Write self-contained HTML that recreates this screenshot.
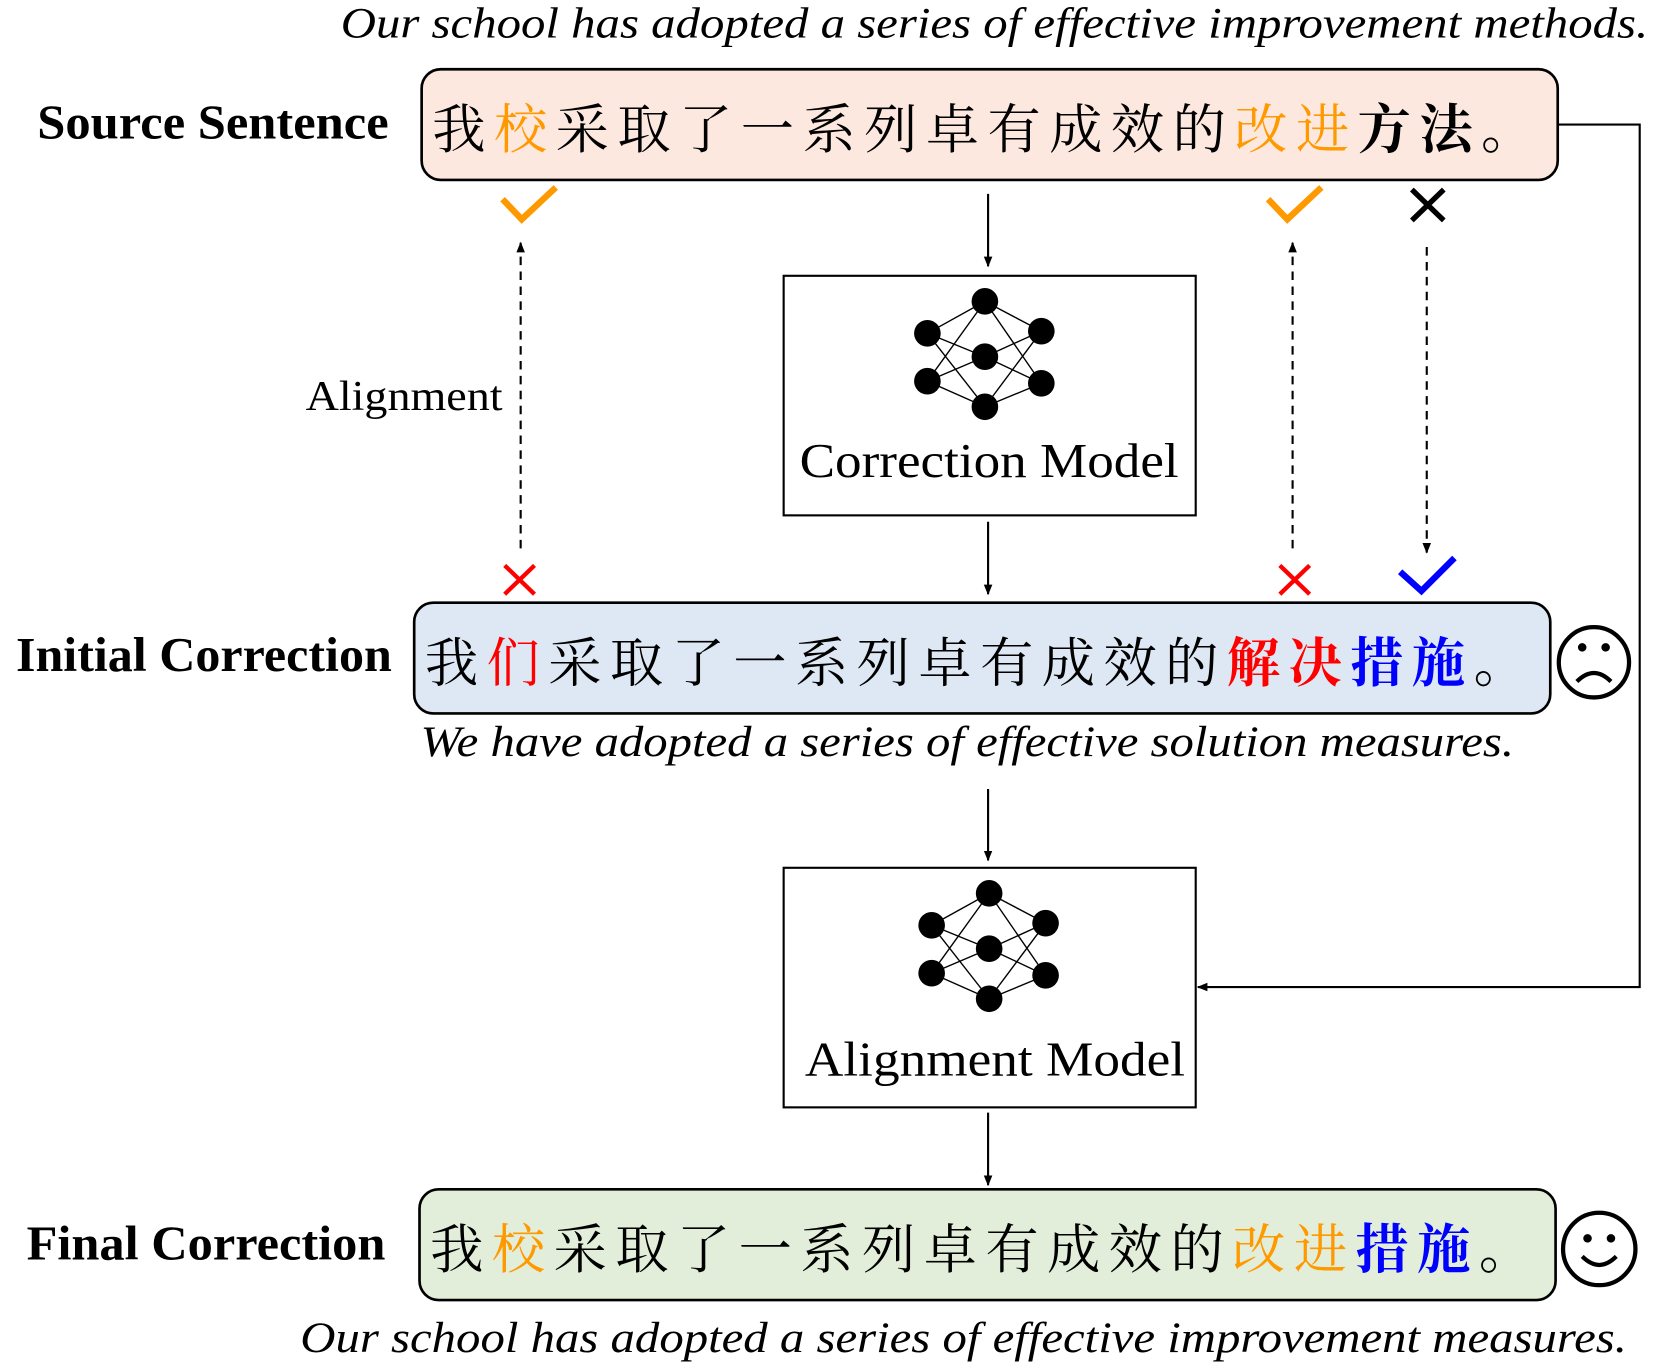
<!DOCTYPE html>
<html><head><meta charset="utf-8"><style>
html,body{margin:0;padding:0;background:#fff;}
svg{display:block;}
</style></head><body>
<svg width="1661" height="1369" viewBox="0 0 1560 1285.7" xmlns="http://www.w3.org/2000/svg">
<defs>
<marker id="ah" markerWidth="10" markerHeight="10" refX="9" refY="5" orient="auto" markerUnits="userSpaceOnUse">
<path d="M0,1 L10,5 L0,9 z" fill="#000"/></marker>
</defs>
<text font-family="Liberation Serif, serif" font-style="italic" font-size="41" x="320" y="35" textLength="1228" lengthAdjust="spacingAndGlyphs">Our school has adopted a series of effective improvement methods.</text>
<text font-family="Liberation Serif, serif" font-weight="bold" font-size="46" x="35" y="130" textLength="330" lengthAdjust="spacingAndGlyphs">Source Sentence</text>
<rect x="396" y="65" width="1067" height="104" rx="18" fill="#fde8e0" stroke="#000" stroke-width="2.5"/>
<text font-family="Noto Serif CJK SC, serif" font-size="50" x="406" y="139" textLength="1035" lengthAdjust="spacing">我<tspan fill="#ff9900">校</tspan>采取了一系列卓有成效的<tspan fill="#ff9900">改进</tspan><tspan font-weight="bold">方法</tspan>。</text>

<g fill="none" stroke-width="6">
<path d="M472,187 L490,206 L522,176" stroke="#ff9900"/>
<path d="M1191,187 L1209,206 L1241,176" stroke="#ff9900"/>
<path d="M1326,178 L1356,207 M1356,178 L1326,207" stroke="#000" stroke-width="5"/>
<path d="M474,531 L502,558 M502,531 L474,558" stroke="#ff0000" stroke-width="4"/>
<path d="M1202,531 L1230,558 M1230,531 L1202,558" stroke="#ff0000" stroke-width="4"/>
<path d="M1315,537 L1335,555 L1366,524" stroke="#0000ff"/>
</g>

<g stroke="#000" stroke-width="2" fill="none">
<line x1="928" y1="182" x2="928" y2="250" marker-end="url(#ah)"/>
<line x1="928" y1="490" x2="928" y2="558" marker-end="url(#ah)"/>
<line x1="928" y1="741" x2="928" y2="808" marker-end="url(#ah)"/>
<line x1="928" y1="1045" x2="928" y2="1113" marker-end="url(#ah)"/>
<line x1="489" y1="515" x2="489" y2="228" stroke-dasharray="8,6" marker-end="url(#ah)"/>
<line x1="1214" y1="515" x2="1214" y2="228" stroke-dasharray="8,6" marker-end="url(#ah)"/>
<line x1="1340" y1="232" x2="1340" y2="519" stroke-dasharray="8,6" marker-end="url(#ah)"/>
<polyline points="1463,117 1540,117 1540,927 1125,927" marker-end="url(#ah)"/>
</g>
<text x="287" y="385" font-family="Liberation Serif, serif" font-size="40" textLength="185" lengthAdjust="spacingAndGlyphs">Alignment</text>

<rect x="736" y="259" width="387" height="225" fill="#fff" stroke="#000" stroke-width="2"/>
<g id="net">
<g stroke="#000" stroke-width="1.3">
<line x1="871" y1="313" x2="925" y2="283"/><line x1="871" y1="313" x2="925" y2="335"/><line x1="871" y1="313" x2="925" y2="382"/>
<line x1="871" y1="358" x2="925" y2="283"/><line x1="871" y1="358" x2="925" y2="335"/><line x1="871" y1="358" x2="925" y2="382"/>
<line x1="978" y1="311" x2="925" y2="283"/><line x1="978" y1="311" x2="925" y2="335"/><line x1="978" y1="311" x2="925" y2="382"/>
<line x1="978" y1="360" x2="925" y2="283"/><line x1="978" y1="360" x2="925" y2="335"/><line x1="978" y1="360" x2="925" y2="382"/>
</g>
<g fill="#000">
<circle cx="871" cy="313" r="12.5"/><circle cx="871" cy="358" r="12.5"/>
<circle cx="925" cy="283" r="12.5"/><circle cx="925" cy="335" r="12.5"/><circle cx="925" cy="382" r="12.5"/>
<circle cx="978" cy="311" r="12.5"/><circle cx="978" cy="360" r="12.5"/>
</g></g>
<text x="751" y="448" font-family="Liberation Serif, serif" font-size="46" textLength="356" lengthAdjust="spacingAndGlyphs">Correction Model</text>

<text font-family="Liberation Serif, serif" font-weight="bold" font-size="46" x="15" y="630" textLength="353" lengthAdjust="spacingAndGlyphs">Initial Correction</text>
<rect x="389" y="566" width="1067" height="104" rx="18" fill="#dde8f4" stroke="#000" stroke-width="2.5"/>
<text font-family="Noto Serif CJK SC, serif" font-size="50" x="399" y="640" textLength="1035" lengthAdjust="spacing">我<tspan fill="#ff0000">们</tspan>采取了一系列卓有成效的<tspan fill="#ff0000" font-weight="bold">解决</tspan><tspan fill="#0000ff" font-weight="bold">措施</tspan>。</text>
<g fill="none" stroke="#000" stroke-width="4">
<circle cx="1497" cy="622" r="33"/>
<path d="M1481,640 Q1497,624 1513,640"/>
</g>
<circle cx="1486" cy="608" r="4" fill="#000"/><circle cx="1508" cy="608" r="4" fill="#000"/>
<text font-family="Liberation Serif, serif" font-style="italic" font-size="41" x="395" y="710" textLength="1027" lengthAdjust="spacingAndGlyphs">We have adopted a series of effective solution measures.</text>

<rect x="736" y="815" width="387" height="225" fill="#fff" stroke="#000" stroke-width="2"/>
<use href="#net" transform="translate(4,556)"/>
<text x="756" y="1010" font-family="Liberation Serif, serif" font-size="46" textLength="357" lengthAdjust="spacingAndGlyphs">Alignment Model</text>

<text font-family="Liberation Serif, serif" font-weight="bold" font-size="46" x="25" y="1183" textLength="337" lengthAdjust="spacingAndGlyphs">Final Correction</text>
<rect x="394" y="1117" width="1067" height="104" rx="18" fill="#e2eed9" stroke="#000" stroke-width="2.5"/>
<text font-family="Noto Serif CJK SC, serif" font-size="50" x="404" y="1191" textLength="1035" lengthAdjust="spacing">我<tspan fill="#ff9900">校</tspan>采取了一系列卓有成效的<tspan fill="#ff9900">改进</tspan><tspan fill="#0000ff" font-weight="bold">措施</tspan>。</text>
<g fill="none" stroke="#000" stroke-width="4">
<circle cx="1502" cy="1173" r="34"/>
<path d="M1486,1180 Q1502,1196 1518,1180"/>
</g>
<circle cx="1491" cy="1163" r="4" fill="#000"/><circle cx="1513" cy="1163" r="4" fill="#000"/>
<text font-family="Liberation Serif, serif" font-style="italic" font-size="41" x="282" y="1270" textLength="1246" lengthAdjust="spacingAndGlyphs">Our school has adopted a series of effective improvement measures.</text>
</svg>
</body></html>
